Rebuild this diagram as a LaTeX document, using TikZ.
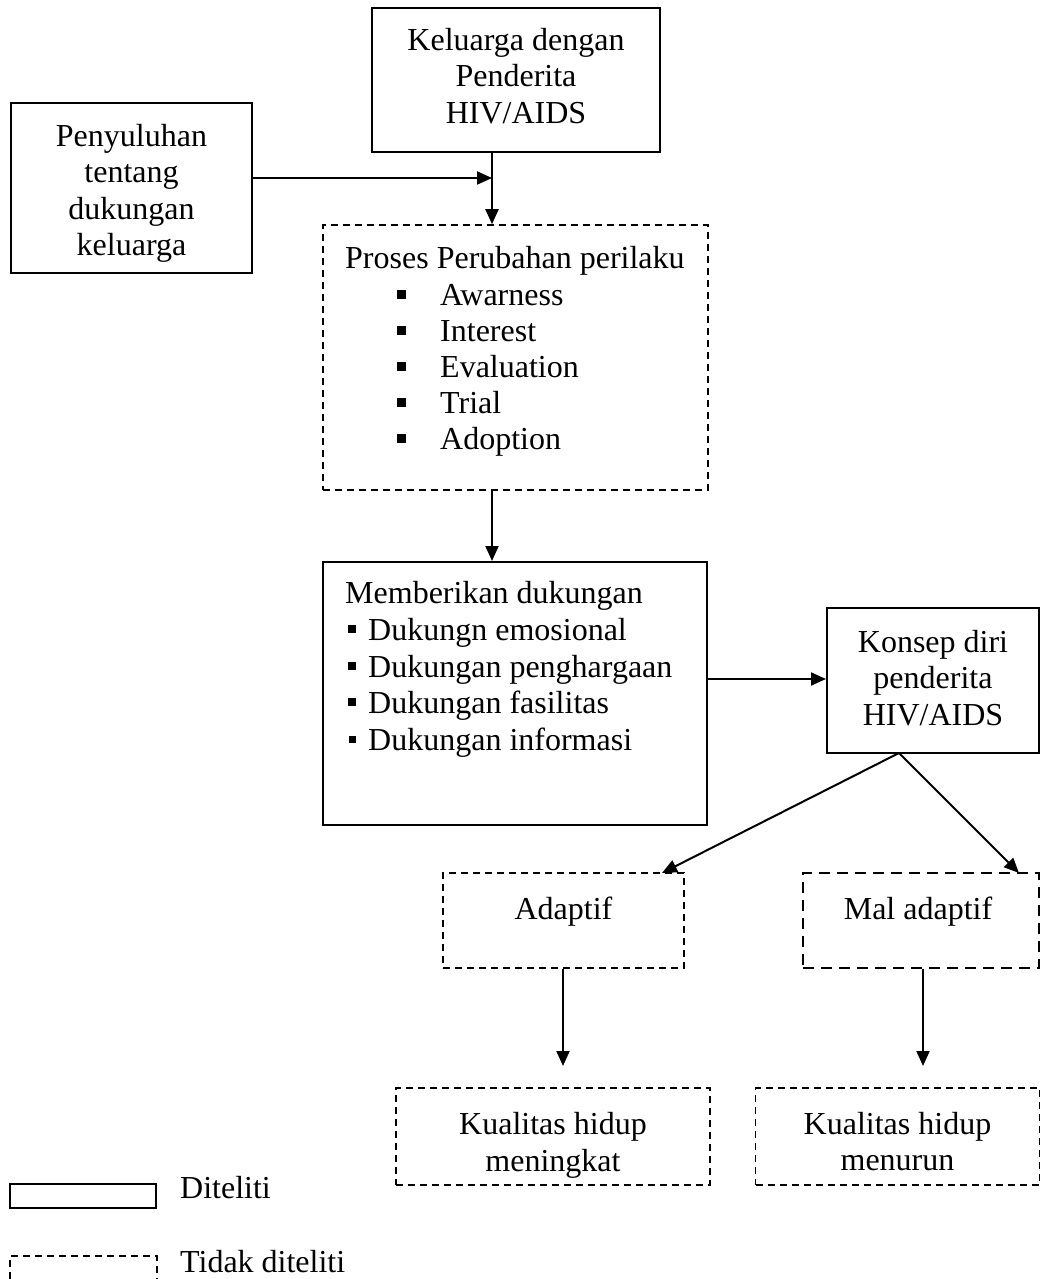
\documentclass[tikz,border=0pt]{standalone}
\usepackage{fontspec}
\setmainfont{Liberation Serif}
\usetikzlibrary{arrows.meta}
\begin{document}
\begin{tikzpicture}[x=1pt,y=-1pt,
  solidbox/.style={draw, line width=2pt, inner sep=0pt},
  dashbox/.style={draw, line width=1.6pt, dash pattern=on 7pt off 5pt, inner sep=0pt},
  thickdash/.style={draw, line width=2.4pt, dash pattern=on 11pt off 7pt, inner sep=0pt},
  mtxt/.style={font=\fontsize{32pt}{36.5pt}\selectfont, inner sep=0pt, align=center},
  txt/.style={font=\fontsize{32pt}{36.5pt}\selectfont, inner sep=0pt, anchor=base west},
  ctxt/.style={font=\fontsize{32pt}{36.5pt}\selectfont, inner sep=0pt, anchor=base},
  conn/.style={line width=2pt, -{Triangle[length=15pt,width=13pt]}},
  bulA/.style={fill=black, inner sep=0pt, minimum size=9pt},
  bulB/.style={fill=black, inner sep=0pt, minimum size=8pt}
]
\useasboundingbox (0,0) rectangle (1040,1279);

% boxes
\node[solidbox, minimum width=288, minimum height=144] (kel) at (516,80) {};
\node[solidbox, minimum width=241, minimum height=170] (pen) at (131.5,188) {};
\node[dashbox, minimum width=385, minimum height=265] (pro) at (515.5,357.5) {};
\node[solidbox, minimum width=384, minimum height=263] (mem) at (515,693.5) {};
\node[solidbox, minimum width=212, minimum height=145] (kon) at (933,680.5) {};
\node[dashbox, minimum width=241, minimum height=95] (adap) at (563.5,920.5) {};
\node[thickdash, minimum width=236, minimum height=95] (mal) at (921,920.5) {};
\node[dashbox, minimum width=314, minimum height=97] (kual1) at (553,1136.5) {};
\node[dashbox, minimum width=284, minimum height=97] (kual2) at (897.5,1136.5) {};

% centred texts
\node[mtxt] (keltxt) at (516,76) {Keluarga dengan\\Penderita\\HIV/AIDS};
\node[mtxt] (pentxt) at (131.5,193.5) {Penyuluhan\\tentang\\dukungan\\keluarga};
\node[mtxt] (kontxt) at (933,678) {Konsep diri\\penderita\\HIV/AIDS};
\node[mtxt] (k1txt) at (553,1145.5) {Kualitas hidup\\meningkat};
\node[mtxt] (k2txt) at (897.5,1141.5) {Kualitas hidup\\menurun};

% texts inside Proses box
\node[txt] (protitle) at (345,268) {Proses Perubahan perilaku};
\node[bulA] (pb1) at (401.5,294) {};
\node[txt] (pt1) at (440,305) {Awarness};
\node[bulA] (pb2) at (401.5,330) {};
\node[txt] (pt2) at (440,341) {Interest};
\node[bulA] (pb3) at (401.5,366) {};
\node[txt] (pt3) at (440,377) {Evaluation};
\node[bulA] (pb4) at (401.5,402) {};
\node[txt] (pt4) at (440,413) {Trial};
\node[bulA] (pb5) at (401.5,438) {};
\node[txt] (pt5) at (440,449) {Adoption};

% texts inside Memberikan box
\node[txt] (memtitle) at (345,603) {Memberikan dukungan};
\node[bulB] (mb1) at (352,629) {};
\node[txt] (mt1) at (368,640) {Dukungn emosional};
\node[bulB] (mb2) at (352,666) {};
\node[txt] (mt2) at (368,677) {Dukungan penghargaan};
\node[bulB] (mb3) at (352,702) {};
\node[txt] (mt3) at (368,713) {Dukungan fasilitas};
\node[bulB, minimum size=7pt] (mb4) at (352,739) {};
\node[txt] (mt4) at (368,750) {Dukungan informasi};

% Adaptif texts
\node[ctxt] (adtxt) at (563.5,919) {Adaptif};
\node[ctxt] (maltxt) at (918,919) {Mal adaptif};

% connectors
\coordinate (j) at (492,178);
\draw[conn] (pen.east |- j) -- (j);
\draw[conn] (kel.south -| j) -- (pro.north -| j);
\draw[conn] (pro.south -| j) -- (mem.north -| j);
\draw[conn] (mem.east |- 0,679) -- (kon.west |- 0,679);
\coordinate (ks) at (899,753);
\coordinate (at) at (662,873);
\coordinate (mt) at (1019,873);
\draw[conn] (ks) -- (at);
\draw[conn] (ks) -- (mt);
\coordinate (ae) at (563,1066);
\coordinate (me) at (923,1066);
\draw[conn] (adap.south -| ae) -- (ae);
\draw[conn] (mal.south -| me) -- (me);

% legend
\node[solidbox, minimum width=146, minimum height=24] (leg1) at (83,1196) {};
\node[txt] (leg1t) at (180,1198) {Diteliti};
\coordinate (l2a) at (10,1279);
\coordinate (l2b) at (157,1279);
\draw[line width=1.6pt, dash pattern=on 7pt off 5pt] (l2a) -- (10,1256) -- (157,1256) -- (l2b);
\node[txt] (leg2t) at (180,1272) {Tidak diteliti};
\end{tikzpicture}
\end{document}
